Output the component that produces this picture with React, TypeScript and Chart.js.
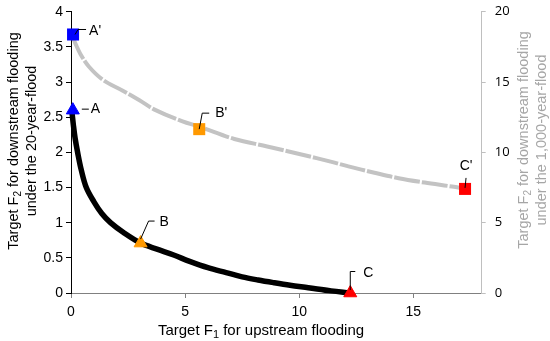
import React, { useEffect, useRef } from 'react';
import { Chart, registerables } from 'chart.js';
Chart.register(...registerables);

// ---- data ----
const curve20X = [0.05, 0.1, 0.18, 0.29, 0.45, 0.67, 1.0, 1.35, 1.73, 2.3, 3.05, 3.8, 4.5, 5.2, 6.0, 6.8, 7.5, 8.2, 8.9, 9.6, 10.4, 11.4, 12.2];
const curve20Y = [2.55, 2.4, 2.2, 2.0, 1.75, 1.5, 1.3, 1.13, 1.0, 0.86, 0.71, 0.62, 0.54, 0.45, 0.36, 0.29, 0.23, 0.185, 0.146, 0.11, 0.075, 0.03, 0.0];

const curve1000X = [0.05, 0.19, 0.41, 0.78, 1.4, 2.25, 3.0, 3.71, 4.89, 5.62, 7.16, 8.6, 10.1, 11.42, 12.16, 13.3, 14.36, 15.5, 16.7, 17.27];
const curve1000Y = [18.3, 17.75, 17.0, 16.1, 15.15, 14.4, 13.7, 13.0, 12.2, 11.83, 10.95, 10.42, 9.85, 9.32, 9.0, 8.55, 8.16, 7.85, 7.57, 7.42];

const pointNames = ['A', 'B', 'C'];
const pointX = [0.08, 3.05, 12.24];
const pointY = [2.6, 0.71, 0.0];

const primeNames = ["A'", "B'", "C'"];
const primeX = [0.09, 5.62, 17.27];
const primeY = [18.38, 11.65, 7.4];

const markerColors = ['#0000FF', '#FF9900', '#FF0000'];

const xTitle = [{ t: 'Target F' }, { t: '1', sub: true }, { t: ' for upstream flooding' }];
const yTitle1 = [{ t: 'Target F' }, { t: '2', sub: true }, { t: ' for downstream flooding' }];
const yTitle2 = [{ t: 'under the 20-year-flood' }];
const y1Title1 = [{ t: 'Target F' }, { t: '2', sub: true }, { t: ' for downstream flooding' }];
const y1Title2 = [{ t: 'under the 1,000-year-flood' }];

// ---- styles ----
const FONT = '"Liberation Sans", Arial, sans-serif';
const pointLeaders = [
  { path: [[9, -1], [16, -1]], text: [18, -1], align: 'left' },
  { path: [[0, -4], [8, -22], [14, -22]], text: [19, -21], align: 'left' },
  { path: [[0, -3], [0, -21.5], [5, -21.5]], text: [13, -20], align: 'left' },
];
const primeLeaders = [
  { path: [[2, 0], [5, -5], [13, -5]], text: [16, -3], align: 'left' },
  { path: [[0, 0], [3, -16], [10, -16]], text: [16, -16], align: 'left' },
  { path: [[0, -1], [1, -11]], text: [1, -23], align: 'center' },
];

type Part = { t: string; sub?: boolean };

function drawRich(ctx: CanvasRenderingContext2D, parts: Part[], cx: number, cy: number, rot: number, color: string, size: number) {
  const main = `${size}px ${FONT}`;
  const sub = `${Math.round(size * 0.7)}px ${FONT}`;
  let total = 0;
  const widths = parts.map((p) => {
    ctx.font = p.sub ? sub : main;
    const w = ctx.measureText(p.t).width;
    total += w;
    return w;
  });
  ctx.save();
  ctx.translate(cx, cy);
  ctx.rotate(rot);
  ctx.fillStyle = color;
  ctx.textBaseline = 'alphabetic';
  ctx.textAlign = 'left';
  let x = -total / 2;
  parts.forEach((p, i) => {
    ctx.font = p.sub ? sub : main;
    ctx.fillText(p.t, x, p.sub ? 3 : 0);
    x += widths[i];
  });
  ctx.restore();
}

const annotPlugin = {
  id: 'annot',
  afterDatasetsDraw(chart: any) {
    const ctx: CanvasRenderingContext2D = chart.ctx;
    const xs = chart.scales.x;
    const ys = chart.scales.y;
    const y1s = chart.scales.y1;
    ctx.save();
    ctx.strokeStyle = '#000';
    ctx.lineWidth = 1;
    ctx.fillStyle = '#000';
    ctx.font = `14px ${FONT}`;
    ctx.textBaseline = 'middle';
    const groups = [
      { names: pointNames, xv: pointX, yv: pointY, scale: ys, lead: pointLeaders },
      { names: primeNames, xv: primeX, yv: primeY, scale: y1s, lead: primeLeaders },
    ];
    groups.forEach((g) => {
      g.names.forEach((name, i) => {
        const px = xs.getPixelForValue(g.xv[i]);
        const py = g.scale.getPixelForValue(g.yv[i]);
        const l = g.lead[i];
        ctx.beginPath();
        l.path.forEach((p, k) => {
          if (k === 0) ctx.moveTo(px + p[0], py + p[1]);
          else ctx.lineTo(px + p[0], py + p[1]);
        });
        ctx.stroke();
        ctx.textAlign = l.align as CanvasTextAlign;
        ctx.fillText(name, px + l.text[0], py + l.text[1]);
      });
    });
    ctx.restore();
  },
  afterDraw(chart: any) {
    const ctx: CanvasRenderingContext2D = chart.ctx;
    drawRich(ctx, xTitle, 261, 335, 0, '#000', 15);
    drawRich(ctx, yTitle1, 17.5, 141, -Math.PI / 2, '#000', 14.5);
    drawRich(ctx, yTitle2, 36, 141, -Math.PI / 2, '#000', 14.5);
    drawRich(ctx, y1Title1, 527.5, 140, -Math.PI / 2, '#A6A6A6', 14.5);
    drawRich(ctx, y1Title2, 546, 140, -Math.PI / 2, '#A6A6A6', 14.5);
  },
};

const fmt = (v: any) => String(Math.round(Number(v) * 100) / 100);

export default function App() {
  const ref = useRef<HTMLCanvasElement>(null);
  useEffect(() => {
    if (!ref.current) return;
    const chart = new Chart(ref.current, {
      type: 'scatter',
      data: {
        datasets: [
          {
            data: pointX.map((x, i) => ({ x, y: pointY[i] })),
            yAxisID: 'y',
            pointStyle: 'triangle',
            pointRadius: 7.5,
            pointBackgroundColor: markerColors,
            pointBorderColor: markerColors,
            pointBorderWidth: 1,
            showLine: false,
            clip: false,
            order: 0,
          } as any,
          {
            data: primeX.map((x, i) => ({ x, y: primeY[i] })),
            yAxisID: 'y1',
            pointStyle: 'rect',
            pointRadius: 8.5,
            pointBackgroundColor: markerColors,
            pointBorderColor: markerColors,
            pointBorderWidth: 0,
            showLine: false,
            clip: false,
            order: 0,
          } as any,
          {
            data: curve20X.map((x, i) => ({ x, y: curve20Y[i] })),
            yAxisID: 'y',
            showLine: true,
            borderColor: '#000',
            borderWidth: 5.5,
            pointRadius: 0,
            tension: 0.35,
            clip: false,
            order: 1,
          } as any,
          {
            data: curve1000X.map((x, i) => ({ x, y: curve1000Y[i] })),
            yAxisID: 'y1',
            showLine: true,
            borderColor: '#C3C3C3',
            borderWidth: 4,
            borderDash: [26, 2],
            pointRadius: 0,
            tension: 0.35,
            clip: false,
            order: 1,
          } as any,
        ],
      },
      options: {
        responsive: false,
        animation: false,
        devicePixelRatio: 1,
        layout: { padding: { top: 11.7, left: 0, right: 0, bottom: 0 } },
        plugins: { legend: { display: false }, tooltip: { enabled: false } },
        scales: {
          x: {
            type: 'linear',
            min: 0,
            max: 18,
            ticks: { stepSize: 5, includeBounds: false, color: '#000', font: { family: FONT, size: 14 }, padding: 6 },
            grid: { drawOnChartArea: false, drawTicks: true, tickLength: 5, color: '#808080' },
            border: { display: true, color: '#808080' },
            afterFit: (s: any) => { s.height = 48; },
          },
          y: {
            type: 'linear',
            position: 'left',
            min: 0,
            max: 4,
            ticks: { stepSize: 0.5, color: '#000', font: { family: FONT, size: 14 }, padding: 3, callback: fmt },
            grid: { drawOnChartArea: false, drawTicks: true, tickLength: 5, color: '#000' },
            border: { display: true, color: '#000' },
            afterFit: (s: any) => { s.width = 71; s.paddingTop = 0; s.paddingBottom = 0; },
          },
          y1: {
            type: 'linear',
            position: 'right',
            min: 0,
            max: 20,
            ticks: { stepSize: 5, color: '#000', font: { family: '"Open Sans", sans-serif', size: 13 }, padding: 9, callback: fmt },
            grid: { drawOnChartArea: false, drawTicks: true, tickLength: 4, color: '#BFBFBF' },
            border: { display: true, color: '#BFBFBF' },
            afterFit: (s: any) => { s.width = 68.3; s.paddingTop = 0; s.paddingBottom = 0; },
          },
        },
      },
      plugins: [annotPlugin],
    } as any);
    return () => chart.destroy();
  }, []);
  return (
    <div style={{ position: 'fixed', left: 0, top: 0, width: 550, height: 341, background: '#fff' }}>
      <canvas ref={ref} width={550} height={341} style={{ display: 'block' }} />
    </div>
  );
}
